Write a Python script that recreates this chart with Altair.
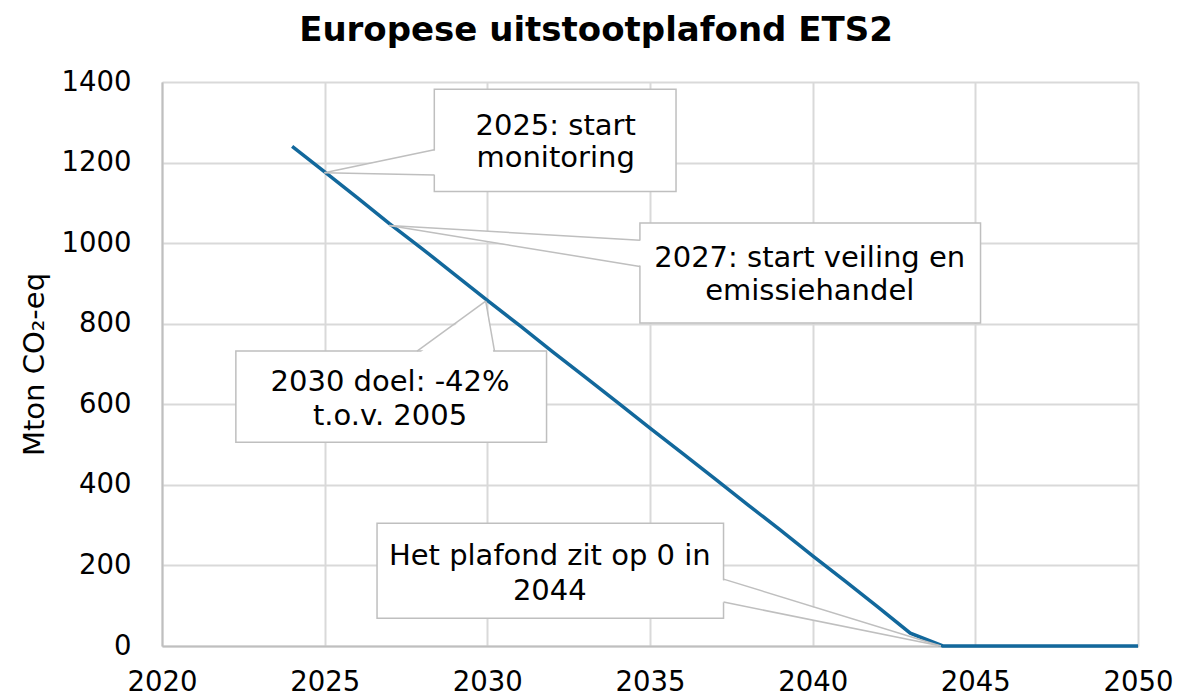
import altair as alt
import pandas as pd

# ---------------- data ----------------
years = list(range(2024, 2051))
cap = [1240, 1177, 1113, 1048, 986, 922, 858, 795, 731, 668,
       605, 541, 478, 415, 351, 288, 224, 161, 97, 32,
       0, 0, 0, 0, 0, 0, 0]

x_ticks = [2020, 2025, 2030, 2035, 2040, 2045, 2050]
y_ticks = [0, 200, 400, 600, 800, 1000, 1200, 1400]

title_text = "Europese uitstootplafond ETS2"
y_title = "Mton CO\u2082-eq"

# callout texts (two lines each)
callout_lines = [
    ["2025: start", "monitoring"],
    ["2027: start veiling en", "emissiehandel"],
    ["2030 doel: -42%", "t.o.v. 2005"],
    ["Het plafond zit op 0 in", "2044"],
]
# annotation placement (data units)
box_x1 = [2028.37, 2034.69, 2022.27, 2026.61]
box_x2 = [2035.80, 2045.16, 2031.82, 2037.26]
box_y1 = [1128, 802, 506, 69]
box_y2 = [1382, 1050, 732, 305]
text_x = [2032.1, 2039.91, 2027.01, 2031.92]
text_y1 = [1268, 941, 634, 201]
text_y2 = [1189, 859, 548, 114]

tip_x = [2024.99, 2026.98, 2029.95, 2043.94]
tip_y = [1175, 1044, 856, 0]
# attach points on box edges
att_ax = [2028.37, 2034.69, 2027.84, 2037.26]
att_ay = [1232, 1007, 732, 166]
att_bx = [2028.37, 2034.69, 2030.22, 2037.26]
att_by = [1169, 942, 732, 109]

# ---------------- tables ----------------
line_df = pd.DataFrame({"year": years, "cap": cap})
box_df = pd.DataFrame({"x1": box_x1, "x2": box_x2, "y1": box_y1, "y2": box_y2})
text_df = pd.DataFrame({
    "x": text_x + text_x,
    "y": text_y1 + text_y2,
    "t": [l[0] for l in callout_lines] + [l[1] for l in callout_lines],
})
seg_df = pd.DataFrame({
    "x": tip_x + tip_x,
    "y": tip_y + tip_y,
    "x2": att_ax + att_bx,
    "y2": att_ay + att_by,
})

# wedge fills (extended slightly into the box to hide the box edge there)
dx = 0.1
dy = 8
wv_rows = []
for i, side in [(0, 1), (1, 1), (3, -1)]:
    wv_rows.append({"id": i, "x": tip_x[i], "lo": tip_y[i], "hi": tip_y[i]})
    wv_rows.append({"id": i, "x": att_ax[i] + side * dx,
                    "lo": att_by[i] + 1, "hi": att_ay[i] - 1})
wv_df = pd.DataFrame(wv_rows)
wh_df = pd.DataFrame([
    {"y": tip_y[2], "lo": tip_x[2], "hi": tip_x[2]},
    {"y": att_ay[2] - dy, "lo": att_ax[2] + 0.03, "hi": att_bx[2] - 0.03},
])

FONT = "DejaVu Sans"
GRID = "#d9d9d9"
EDGE = "#bfbfbf"
BLUE = "#12689c"

xscale = alt.Scale(domain=[2020, 2050], nice=False)
yscale = alt.Scale(domain=[0, 1400], nice=False)

line = alt.Chart(line_df).mark_line(color=BLUE, strokeWidth=3.5).encode(
    x=alt.X("year:Q", scale=xscale,
            axis=alt.Axis(values=x_ticks, format="d", title=None,
                          grid=True, gridColor=GRID, gridWidth=2,
                          domainColor=EDGE, domainWidth=2,
                          ticks=False, tickSize=0, labelPadding=22,
                          labelFont=FONT, labelFontSize=27.5,
                          labelColor="black", labelFlush=False)),
    y=alt.Y("cap:Q", scale=yscale,
            axis=alt.Axis(values=y_ticks, format="d", title=y_title,
                          grid=True, gridColor=GRID, gridWidth=2,
                          domainColor=EDGE, domainWidth=2,
                          ticks=False, tickSize=0, labelPadding=31,
                          labelFont=FONT, labelFontSize=27.5,
                          labelColor="black",
                          titleFont=FONT, titleFontSize=29,
                          titleFontWeight="normal", titleColor="black",
                          titleAngle=270, titleAlign="center",
                          titleBaseline="alphabetic",
                          titleX=-119, titleY=282)),
)

boxes = alt.Chart(box_df).mark_rect(fill="white", stroke=EDGE,
                                    strokeWidth=1.5).encode(
    x=alt.X("x1:Q", scale=xscale), x2="x2:Q",
    y=alt.Y("y1:Q", scale=yscale), y2="y2:Q",
)

wedge_v = alt.Chart(wv_df).mark_area(color="white", orient="vertical",
                                     opacity=1).encode(
    x=alt.X("x:Q", scale=xscale),
    y=alt.Y("lo:Q", scale=yscale), y2="hi:Q",
    detail="id:N",
)

wedge_h = alt.Chart(wh_df).mark_area(color="white", orient="horizontal",
                                     opacity=1).encode(
    y=alt.Y("y:Q", scale=yscale),
    x=alt.X("lo:Q", scale=xscale), x2="hi:Q",
)

segs = alt.Chart(seg_df).mark_rule(color=EDGE, strokeWidth=1.5).encode(
    x=alt.X("x:Q", scale=xscale), x2="x2:Q",
    y=alt.Y("y:Q", scale=yscale), y2="y2:Q",
)

texts = alt.Chart(text_df).mark_text(font=FONT, fontSize=29, color="black",
                                     align="center",
                                     baseline="alphabetic").encode(
    x=alt.X("x:Q", scale=xscale),
    y=alt.Y("y:Q", scale=yscale),
    text="t:N",
)

title = alt.Chart(pd.DataFrame({"t": [title_text]})).mark_text(
    font=FONT, fontSize=34, fontWeight="bold", color="black",
    align="center", baseline="alphabetic").encode(
    x=alt.value(434), y=alt.value(-41), text="t:N")

chart = alt.layer(line, boxes, wedge_v, wedge_h, segs, texts, title).properties(
    width=976, height=564,
    autosize=alt.AutoSizeParams(type="none"),
    padding={"left": 154, "top": 74, "right": 35, "bottom": 52},
).configure_view(stroke=None).configure(background="white")

chart.save("out.html", embed_options={"renderer": "svg", "actions": False})
